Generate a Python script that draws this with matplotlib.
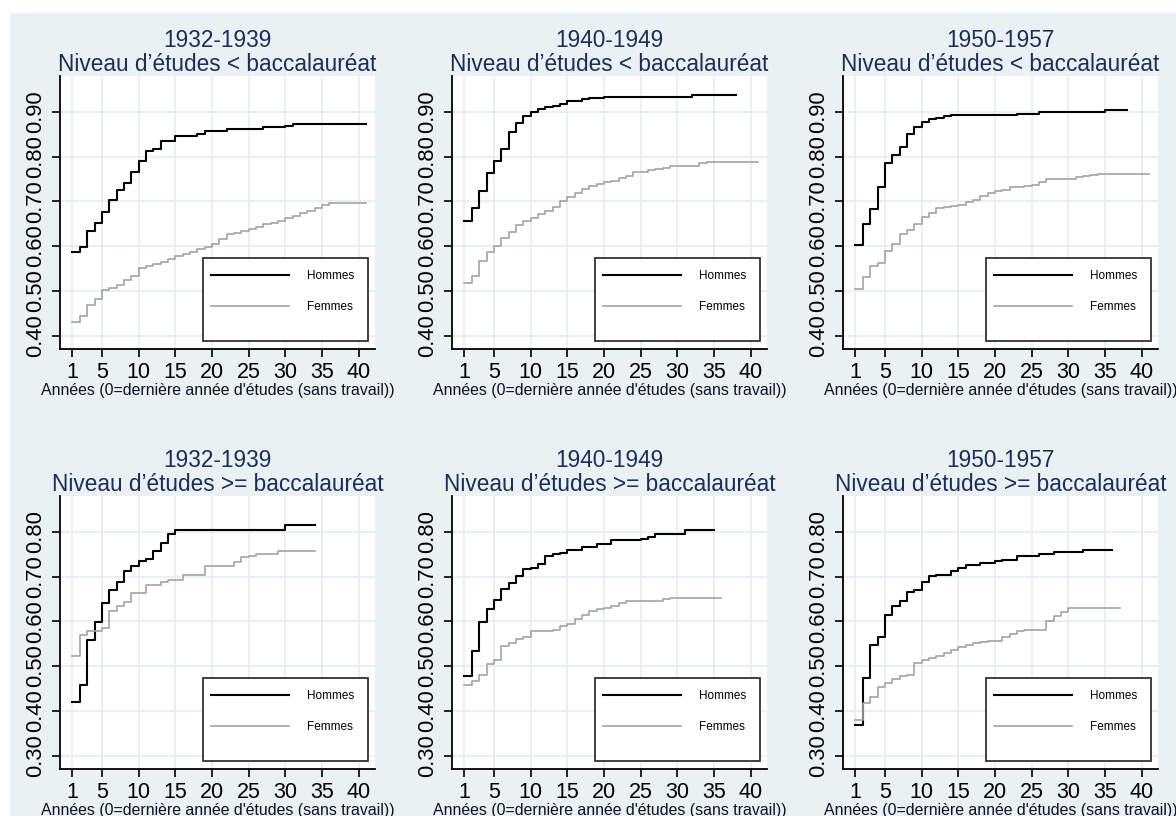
import numpy as np
import matplotlib
matplotlib.use('Agg')
import matplotlib.pyplot as plt
from matplotlib.patches import Rectangle

plt.rcParams['font.family'] = ['Liberation Sans', 'DejaVu Sans']

# periodes et niveaux d'etudes
periodes = ['1932-1939', '1940-1949', '1950-1957']
niveaux = ['<', '>=']
x_ticks = [1, 5, 10, 15, 20, 25, 30, 35, 40]

# proportions, annee 1, 2, 3, ...
h_1932_inf = [0.586, 0.599, 0.634, 0.652, 0.677, 0.704, 0.725, 0.742, 0.766, 0.791,
              0.813, 0.817, 0.834, 0.834, 0.845, 0.847, 0.847, 0.850, 0.856, 0.856,
              0.856, 0.861, 0.861, 0.861, 0.861, 0.861, 0.865, 0.865, 0.865, 0.868,
              0.872, 0.872, 0.872, 0.872, 0.872, 0.872, 0.872, 0.872, 0.872, 0.872, 0.872]
f_1932_inf = [0.431, 0.444, 0.468, 0.481, 0.501, 0.507, 0.514, 0.524, 0.534, 0.551,
              0.556, 0.559, 0.565, 0.570, 0.578, 0.582, 0.587, 0.593, 0.599, 0.604,
              0.616, 0.626, 0.630, 0.634, 0.639, 0.643, 0.649, 0.652, 0.657, 0.662,
              0.667, 0.673, 0.678, 0.684, 0.692, 0.696, 0.696, 0.696, 0.696, 0.696, 0.696]
h_1940_inf = [0.655, 0.686, 0.724, 0.763, 0.791, 0.816, 0.854, 0.875, 0.891, 0.900,
              0.906, 0.910, 0.913, 0.917, 0.925, 0.925, 0.928, 0.931, 0.931, 0.934,
              0.934, 0.934, 0.934, 0.934, 0.934, 0.934, 0.934, 0.934, 0.934, 0.934,
              0.934, 0.938, 0.938, 0.938, 0.938, 0.938, 0.938, 0.938]
f_1940_inf = [0.518, 0.533, 0.567, 0.586, 0.601, 0.617, 0.632, 0.647, 0.657, 0.662,
              0.671, 0.678, 0.687, 0.701, 0.710, 0.719, 0.727, 0.735, 0.739, 0.743,
              0.746, 0.751, 0.757, 0.766, 0.766, 0.770, 0.772, 0.775, 0.779, 0.780,
              0.780, 0.780, 0.785, 0.787, 0.788, 0.788, 0.788, 0.788, 0.788, 0.788, 0.788]
h_1950_inf = [0.602, 0.649, 0.683, 0.733, 0.785, 0.804, 0.822, 0.850, 0.866, 0.878,
              0.884, 0.887, 0.890, 0.893, 0.893, 0.893, 0.893, 0.893, 0.893, 0.893,
              0.893, 0.893, 0.896, 0.896, 0.896, 0.899, 0.899, 0.899, 0.899, 0.899,
              0.899, 0.899, 0.899, 0.899, 0.903, 0.903, 0.903, 0.903]
f_1950_inf = [0.505, 0.530, 0.555, 0.563, 0.589, 0.604, 0.628, 0.636, 0.649, 0.666,
              0.673, 0.684, 0.688, 0.690, 0.692, 0.699, 0.704, 0.712, 0.718, 0.722,
              0.725, 0.731, 0.733, 0.735, 0.737, 0.744, 0.750, 0.750, 0.750, 0.750,
              0.754, 0.757, 0.759, 0.761, 0.761, 0.761, 0.761, 0.761, 0.761, 0.761, 0.761]
h_1932_sup = [0.419, 0.458, 0.559, 0.599, 0.641, 0.671, 0.688, 0.713, 0.723, 0.734,
              0.740, 0.757, 0.775, 0.794, 0.804, 0.804, 0.804, 0.804, 0.804, 0.804,
              0.804, 0.804, 0.804, 0.804, 0.804, 0.804, 0.804, 0.804, 0.804, 0.815,
              0.815, 0.815, 0.815, 0.815]
f_1932_sup = [0.522, 0.569, 0.578, 0.578, 0.585, 0.622, 0.634, 0.643, 0.663, 0.663,
              0.682, 0.682, 0.688, 0.693, 0.693, 0.704, 0.704, 0.704, 0.723, 0.723,
              0.723, 0.723, 0.732, 0.743, 0.747, 0.751, 0.751, 0.751, 0.757, 0.757,
              0.757, 0.757, 0.757, 0.757]
h_1940_sup = [0.477, 0.533, 0.599, 0.628, 0.648, 0.672, 0.686, 0.702, 0.716, 0.719,
              0.727, 0.746, 0.751, 0.753, 0.760, 0.760, 0.766, 0.766, 0.772, 0.772,
              0.781, 0.781, 0.781, 0.781, 0.785, 0.789, 0.796, 0.796, 0.796, 0.796,
              0.803, 0.803, 0.803, 0.803, 0.803]
f_1940_sup = [0.458, 0.466, 0.481, 0.504, 0.514, 0.544, 0.551, 0.560, 0.564, 0.578,
              0.578, 0.578, 0.581, 0.589, 0.593, 0.605, 0.615, 0.622, 0.628, 0.630,
              0.634, 0.641, 0.645, 0.645, 0.645, 0.645, 0.645, 0.649, 0.651, 0.651,
              0.651, 0.651, 0.651, 0.651, 0.651, 0.651]
h_1950_sup = [0.369, 0.473, 0.546, 0.566, 0.613, 0.635, 0.645, 0.666, 0.671, 0.688,
              0.701, 0.704, 0.704, 0.713, 0.719, 0.725, 0.725, 0.731, 0.731, 0.734,
              0.738, 0.738, 0.747, 0.747, 0.747, 0.751, 0.751, 0.754, 0.754, 0.754,
              0.754, 0.760, 0.760, 0.760, 0.760, 0.760]
f_1950_sup = [0.380, 0.417, 0.431, 0.453, 0.462, 0.471, 0.477, 0.481, 0.507, 0.513,
              0.518, 0.522, 0.529, 0.535, 0.543, 0.548, 0.551, 0.554, 0.555, 0.555,
              0.566, 0.572, 0.578, 0.580, 0.580, 0.580, 0.600, 0.611, 0.621, 0.630,
              0.630, 0.630, 0.630, 0.630, 0.630, 0.630, 0.630]

hommes = [[h_1932_inf, h_1940_inf, h_1950_inf], [h_1932_sup, h_1940_sup, h_1950_sup]]
femmes = [[f_1932_inf, f_1940_inf, f_1950_inf], [f_1932_sup, f_1940_sup, f_1950_sup]]
y_ticks = [[0.40, 0.50, 0.60, 0.70, 0.80, 0.90], [0.30, 0.40, 0.50, 0.60, 0.70, 0.80]]
y_lims = [(0.37, 0.98), (0.27, 0.88)]

titre_col = '#1c2c5b'
grille_col = '#e4eef1'

fig = plt.figure(figsize=(11.76, 8.16), dpi=100, facecolor='white')
# fond gris-bleu
fig.patches.append(Rectangle((10 / 1176, 0), 1, 1 - 13 / 816, transform=fig.transFigure,
                             facecolor='#e9f1f3', edgecolor='none', zorder=-10))

lefts = [60 / 1176, 452 / 1176, 843 / 1176]
bottoms = [1 - 349 / 816, 1 - 769 / 816]
w, h = 315 / 1176, 273 / 816

for r in range(2):
    for c in range(3):
        ax = fig.add_axes([lefts[c], bottoms[r], w, h])
        ax.set_facecolor('white')
        hv = hommes[r][c]
        fv = femmes[r][c]
        ax.step(np.arange(1, len(hv) + 1), hv, where='post', color='black', lw=1.5,
                label='Hommes', zorder=3)
        ax.step(np.arange(1, len(fv) + 1), fv, where='post', color='#a3a3a3', lw=1.2,
                label='Femmes', zorder=3)

        ax.set_xlim(-0.7, 42.2)
        ax.set_ylim(*y_lims[r])
        ax.set_xticks(x_ticks)
        ax.set_yticks(y_ticks[r])
        ax.set_yticklabels(['%.2f' % v for v in y_ticks[r]], rotation=90, va='center')
        ax.grid(True, color=grille_col, lw=1.1, zorder=0)
        ax.set_axisbelow(True)
        for s in ['top', 'right']:
            ax.spines[s].set_visible(False)
        for s in ['left', 'bottom']:
            ax.spines[s].set_linewidth(1.3)
        ax.tick_params(axis='both', direction='out', length=6, width=1.2, colors='black')
        ax.tick_params(axis='y', pad=4, labelsize=15.8)
        ax.tick_params(axis='x', pad=3, labelsize=15.5)

        ax.set_title(periodes[c] + '\nNiveau d\u2019études ' + niveaux[r] + ' baccalauréat',
                     fontsize=16.3, color=titre_col, linespacing=1.08, pad=3)
        ax.set_xlabel("Années (0=dernière année d'études (sans travail))", fontsize=11.4,
                      color='#111122', labelpad=0)

        # cadre de la legende
        ax.add_patch(Rectangle((0.454, 0.029), 0.524, 0.304, transform=ax.transAxes,
                               facecolor='white', edgecolor='#333333', lw=1.3, zorder=4))
        leg = ax.legend(loc='upper left', bbox_to_anchor=(0.479, 0.29), frameon=False,
                        fontsize=8.5, handlelength=6.6, handletextpad=1.5, labelspacing=1.65,
                        borderpad=0, borderaxespad=0)
        leg.set_zorder(5)

fig.savefig('out.png', dpi=100)
